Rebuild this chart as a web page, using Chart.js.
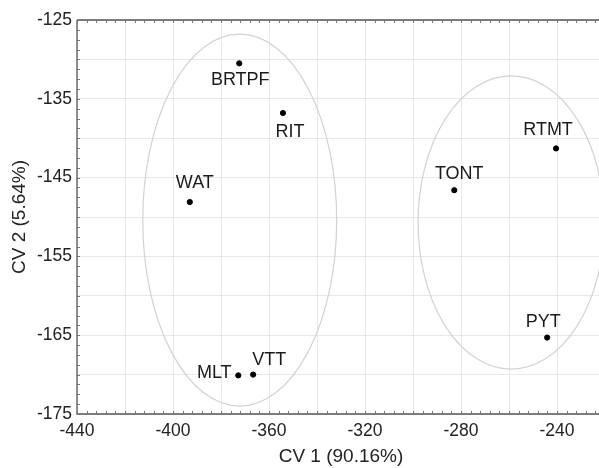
<!DOCTYPE html>
<html>
<head>
<meta charset="utf-8">
<script src="https://cdn.jsdelivr.net/npm/chart.js@4"></script>
<style>
  html, body { margin:0; padding:0; background:#fff; overflow:hidden; }
  #wrap { width:612px; height:468px; position:relative; }
</style>
</head>
<body>
<div id="wrap"><canvas id="c" width="612" height="468"></canvas></div>
<script>
// ---- data ----
const categories = ['BRTPF','RIT','WAT','MLT','VTT','TONT','RTMT','PYT'];
const cv1Values = [-372.4, -354.2, -393.0, -372.8, -366.6, -282.8, -240.4, -244.1];
const cv2Values = [-130.5, -136.8, -148.1, -170.1, -170.0, -146.6, -141.3, -165.3];
const xTickLabels = [-440, -400, -360, -320, -280, -240];
const yTickLabels = [-125, -135, -145, -155, -165, -175];
// group confidence ellipses (data units)
const ellipseCenterX = [-372.2, -259.1];
const ellipseCenterY = [-150.4, -150.7];
const ellipseRadiusX = [40.4, 38.8];
const ellipseRadiusY = [23.6, 18.6];

// ---- styling ----
const labelOffsets = [[1,17],[7,19],[5,-19],[-24,-2],[16,-15],[5,-16],[-8,-18],[-4,-16]];
const FONT = 'Liberation Sans, Arial, sans-serif';

const ellipsePlugin = {
  id: 'ellipses',
  beforeDatasetsDraw(chart) {
    const {ctx, scales:{x, y}, chartArea} = chart;
    ctx.save();
    ctx.beginPath();
    ctx.rect(chartArea.left, chartArea.top, chartArea.right-chartArea.left, chartArea.bottom-chartArea.top);
    ctx.clip();
    ctx.strokeStyle = '#d2d2d2';
    ctx.lineWidth = 1.2;
    for (let i = 0; i < ellipseCenterX.length; i++) {
      const cx = x.getPixelForValue(ellipseCenterX[i]);
      const cy = y.getPixelForValue(ellipseCenterY[i]);
      const rx = Math.abs(x.getPixelForValue(ellipseCenterX[i] + ellipseRadiusX[i]) - cx);
      const ry = Math.abs(y.getPixelForValue(ellipseCenterY[i] + ellipseRadiusY[i]) - cy);
      ctx.beginPath();
      ctx.ellipse(cx, cy, rx, ry, 0, 0, Math.PI*2);
      ctx.stroke();
    }
    ctx.restore();
  }
};

const framePlugin = {
  id: 'frame',
  afterDatasetsDraw(chart) {
    const {ctx, scales:{x, y}, chartArea:a} = chart;
    ctx.save();
    ctx.strokeStyle = '#555';
    ctx.lineWidth = 1.3;
    ctx.beginPath();
    ctx.moveTo(a.left, a.top); ctx.lineTo(a.right, a.top);
    ctx.moveTo(a.left, a.top); ctx.lineTo(a.left, a.bottom);
    ctx.lineTo(a.right, a.bottom);
    ctx.stroke();
    // minor ticks
    ctx.lineWidth = 1;
    ctx.strokeStyle = '#777';
    ctx.beginPath();
    for (let v = -440; v <= -220; v += 4) {
      const px = Math.round(x.getPixelForValue(v)) + 0.5;
      ctx.moveTo(px, a.bottom); ctx.lineTo(px, a.bottom - 3);
      ctx.moveTo(px, a.top); ctx.lineTo(px, a.top + 3);
    }
    for (let v = -175; v <= -125; v += 1.25) {
      const py = Math.round(y.getPixelForValue(v)) + 0.5;
      ctx.moveTo(a.left, py); ctx.lineTo(a.left + 3, py);
    }
    ctx.stroke();
    // point labels
    ctx.fillStyle = '#1a1a1a';
    ctx.font = '18px ' + FONT;
    ctx.textAlign = 'center';
    ctx.textBaseline = 'middle';
    const meta = chart.getDatasetMeta(0);
    meta.data.forEach((pt, i) => {
      const off = labelOffsets[i];
      ctx.fillText(categories[i], pt.x + off[0], pt.y + off[1]);
    });
    ctx.restore();
  }
};

new Chart(document.getElementById('c'), {
  type: 'scatter',
  data: {
    datasets: [{
      label: 'CV scores',
      data: cv1Values.map((v, i) => ({x: v, y: cv2Values[i]})),
      backgroundColor: '#000',
      borderColor: '#000',
      pointRadius: 2.6,
      pointHoverRadius: 2.6
    }]
  },
  options: {
    responsive: false,
    animation: false,
    devicePixelRatio: 1,
    layout: { padding: { top: 20, right: 1, left: 0, bottom: 0 } },
    plugins: { legend: { display: false }, tooltip: { enabled: false } },
    scales: {
      x: {
        type: 'linear', min: -440, max: -220,
        afterFit(s) { s.height = 54; },
        ticks: {
          stepSize: 20, autoSkip: false, maxRotation: 0, padding: 7,
          color: '#222', font: { family: FONT, size: 17.5 },
          callback: v => xTickLabels.includes(v) ? String(v) : ''
        },
        grid: { color: '#e8e8e8', drawTicks: false, lineWidth: 1 },
        border: { display: false },
        title: { display: true, text: 'CV 1 (90.16%)', color: '#222',
                 font: { family: FONT, size: 19 }, padding: { top: 0, bottom: 0 } }
      },
      y: {
        type: 'linear', min: -175, max: -125,
        afterFit(s) { s.width = 77; },
        ticks: {
          stepSize: 5, autoSkip: false, padding: 5,
          color: '#222', font: { family: FONT, size: 17.5 },
          callback: v => yTickLabels.includes(v) ? String(v) : ''
        },
        grid: { color: '#e8e8e8', drawTicks: false, lineWidth: 1 },
        border: { display: false },
        title: { display: true, text: 'CV 2 (5.64%)', color: '#222',
                 font: { family: FONT, size: 19 }, padding: { top: 8, bottom: 0 } }
      }
    }
  },
  plugins: [ellipsePlugin, framePlugin]
});
</script>
</body>
</html>
